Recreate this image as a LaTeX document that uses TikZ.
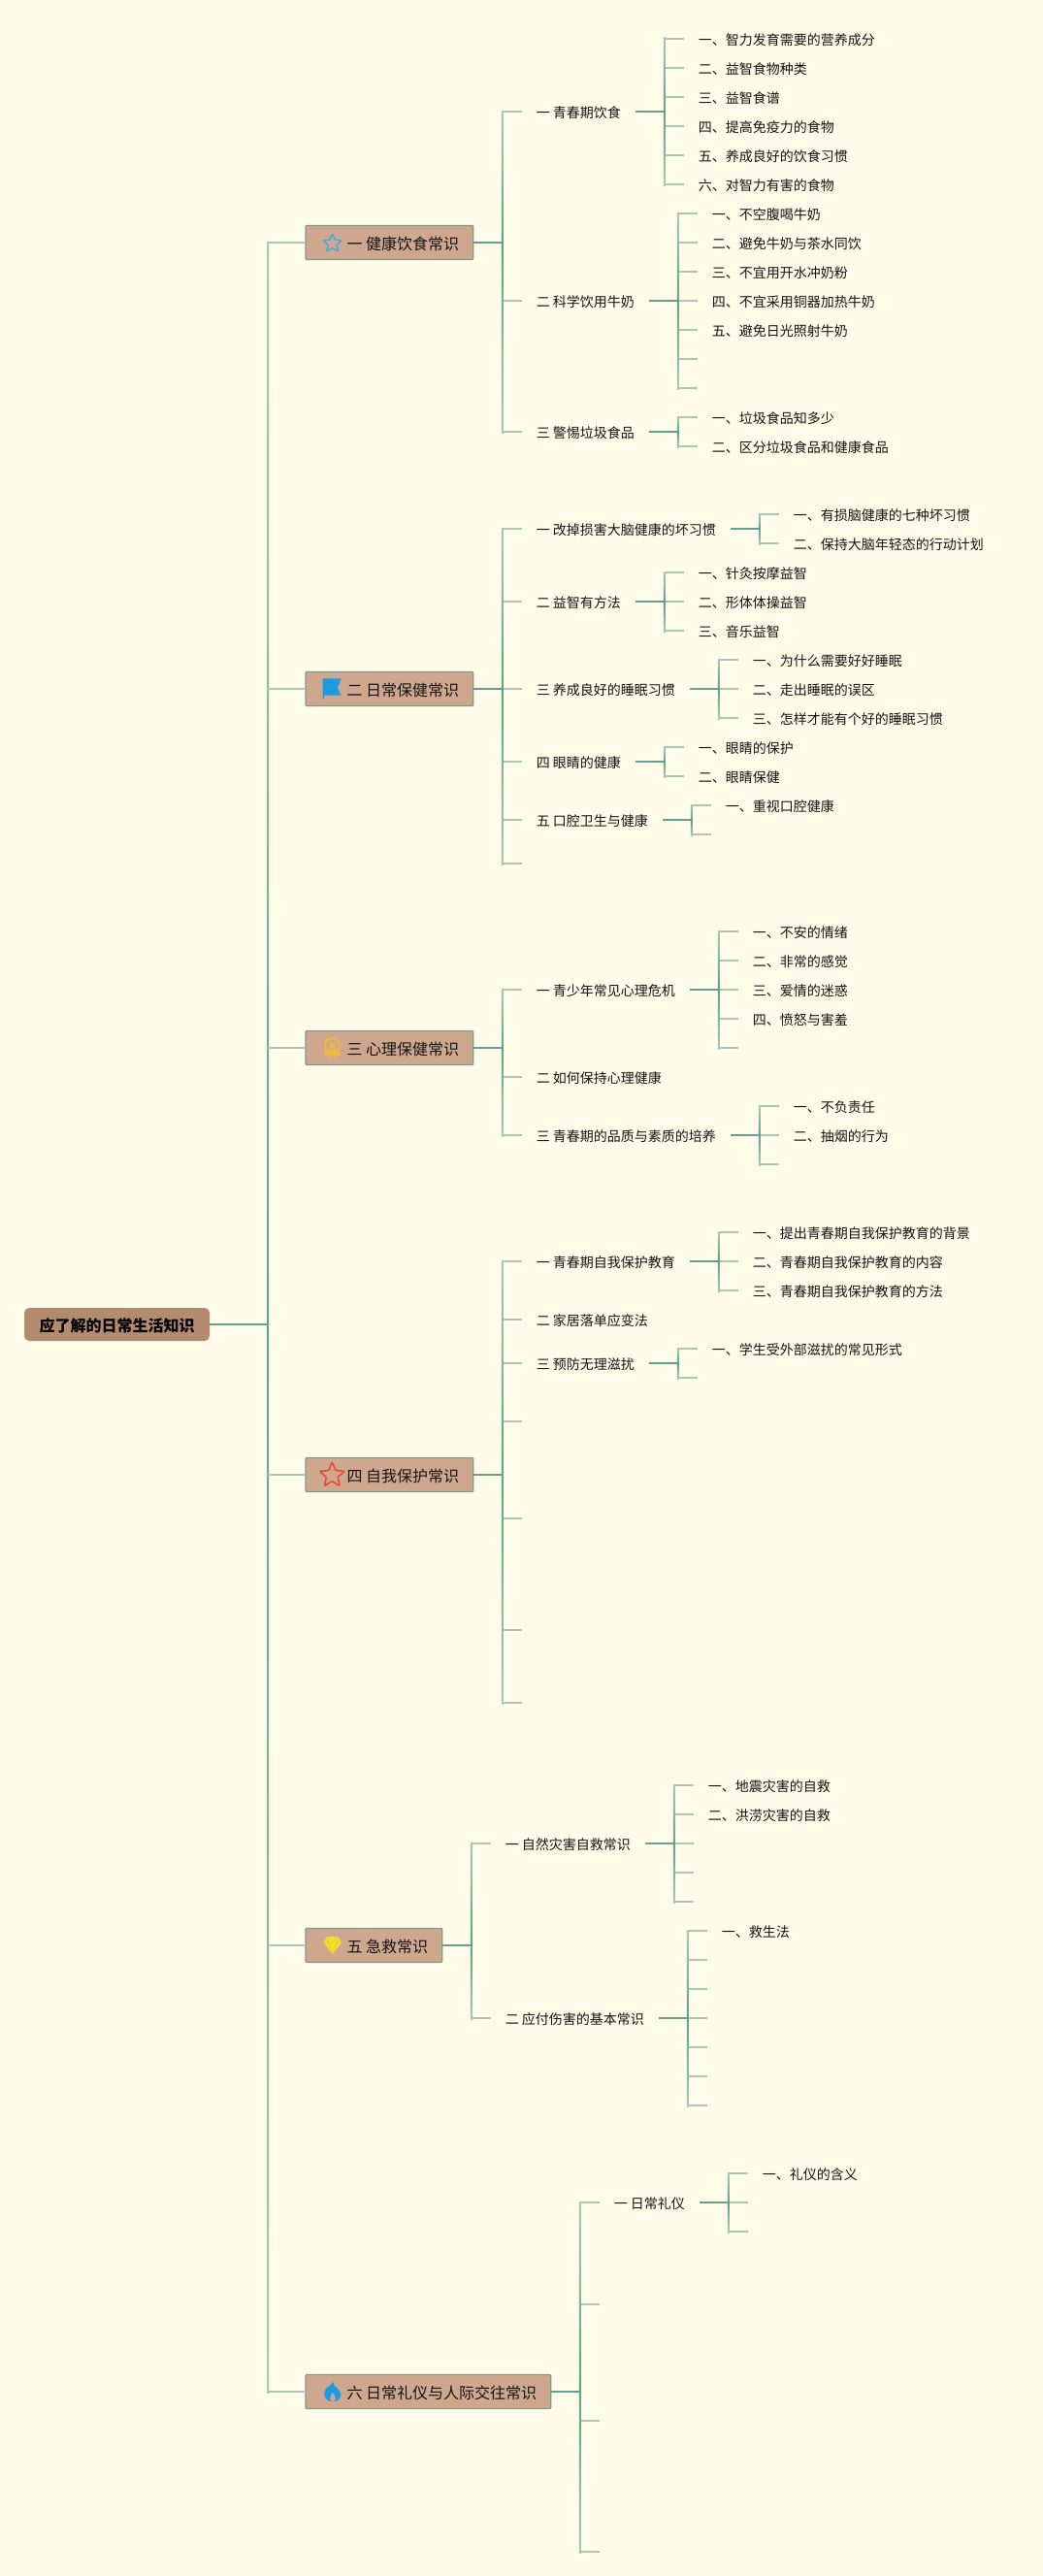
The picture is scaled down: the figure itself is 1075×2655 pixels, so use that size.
\documentclass[tikz,border=0pt]{standalone}
\usepackage{fontspec}
\setmainfont{Noto Sans CJK SC}
\usetikzlibrary{calc,shapes.geometric}

\definecolor{paper}{HTML}{FFFBE9}
\definecolor{linkdark}{HTML}{659F90}
\definecolor{linklight}{HTML}{A9C9B6}
\definecolor{boxfill}{HTML}{CFA78E}
\definecolor{boxline}{HTML}{7C9C86}
\definecolor{rootfill}{HTML}{B58B70}
\definecolor{inkcol}{HTML}{141414}
\definecolor{iconblue}{HTML}{1E9AE0}
\definecolor{icongold}{HTML}{EFB93C}
\definecolor{iconred}{HTML}{E8432C}
\definecolor{iconyellow}{HTML}{F6DE30}

\tikzset{
    leaf/.style={anchor=west,outer sep=0pt,inner xsep=15pt,inner ysep=0pt,text height=15pt,text depth=2.5pt,
        text=inkcol,font=\fontsize{14pt}{16pt}\selectfont},
    boxnode/.style={anchor=west,outer sep=0pt,draw=boxline,fill=boxfill,line width=1.2pt,rounded corners=1pt,
        minimum height=35pt,inner xsep=14.6pt,inner ysep=0pt,text height=18pt,text depth=3.4pt,
        text=inkcol,font=\fontsize{16pt}{18pt}\selectfont},
    rootnode/.style={anchor=west,outer sep=0pt,fill=rootfill,rounded corners=5pt,minimum height=34pt,
        inner xsep=15.5pt,inner ysep=0pt,text height=18pt,text depth=3.8pt,
        text=black,font=\fontsize{16pt}{18pt}\selectfont\bfseries},
    twig/.style={draw=linklight,line width=1.8pt},
    stem/.style={draw=linkdark,line width=1.8pt},
    starmark/.style={star,star points=5,star point ratio=2.2,inner sep=0pt,rounded corners=1pt}
}

% #1 parent node, #2 number of children, #3 list of y/text
\newcommand{\fanout}[3]{
    \coordinate (#1j) at ($(#1.east)+(30,0)$);
    \draw[stem] (#1.east) -- (#1j);
    \foreach \y/\txt [count=\i] in {#3} {
        \node[leaf,xshift=20pt] (#1\i) at (#1j |- 0,\y) {\txt};
        \draw[twig] (#1j |- #1\i) -- (#1\i.west);
    }
    \shade[top color=linklight,bottom color=linkdark] ($(#1j |- #11)+(-1,-1)$) rectangle ($(#1j)+(1,0)$);
    \shade[top color=linkdark,bottom color=linklight] ($(#1j)+(-1,0)$) rectangle ($(#1j |- #1#2)+(1,1)$);
}

\begin{document}
\begin{tikzpicture}[x=1pt,y=-1pt]
    \fill[paper] (0,0) rectangle (1075,2655);
    \useasboundingbox (0,0) rectangle (1075,2655);

    \node[rootnode] (root) at (25,1365) {应了解的日常生活知识};
    \node[boxnode] (a) at (315,250) {\hspace*{28pt}一 健康饮食常识};
    \node[boxnode] (b) at (315,710) {\hspace*{28pt}二 日常保健常识};
    \node[boxnode] (c) at (315,1080) {\hspace*{28pt}三 心理保健常识};
    \node[boxnode] (d) at (315,1520) {\hspace*{28pt}四 自我保护常识};
    \node[boxnode] (e) at (315,2005) {\hspace*{28pt}五 急救常识};
    \node[boxnode] (f) at (315,2465) {\hspace*{28pt}六 日常礼仪与人际交往常识};

    \coordinate (rootj) at ($(root.east)+(60,0)$);
    \shade[top color=linklight,bottom color=linkdark] ($(rootj |- a)+(-1,-1)$) rectangle ($(rootj)+(1,0)$);
    \shade[top color=linkdark,bottom color=linklight] ($(rootj)+(-1,0)$) rectangle ($(rootj |- f)+(1,1)$);
    \draw[stem] (root.east) -- (rootj);
    \foreach \n in {a,b,c,d,e,f}
        \draw[twig] (rootj |- \n) -- (\n.west);

    \fanout{a}{3}{115/一 青春期饮食,310/二 科学饮用牛奶,445/三 警惕垃圾食品}
    \fanout{a1}{6}{40/一、智力发育需要的营养成分,70/二、益智食物种类,100/三、益智食谱,
        130/四、提高免疫力的食物,160/五、养成良好的饮食习惯,190/六、对智力有害的食物}
    \fanout{a2}{7}{220/一、不空腹喝牛奶,250/二、避免牛奶与茶水同饮,280/三、不宜用开水冲奶粉,
        310/四、不宜采用铜器加热牛奶,340/五、避免日光照射牛奶,370/{},400/{}}
    \fanout{a3}{2}{430/一、垃圾食品知多少,460/二、区分垃圾食品和健康食品}

    \fanout{b}{6}{545/一 改掉损害大脑健康的坏习惯,620/二 益智有方法,710/三 养成良好的睡眠习惯,
        785/四 眼睛的健康,845/五 口腔卫生与健康,890/{}}
    \fanout{b1}{2}{530/一、有损脑健康的七种坏习惯,560/二、保持大脑年轻态的行动计划}
    \fanout{b2}{3}{590/一、针灸按摩益智,620/二、形体体操益智,650/三、音乐益智}
    \fanout{b3}{3}{680/一、为什么需要好好睡眠,710/二、走出睡眠的误区,740/三、怎样才能有个好的睡眠习惯}
    \fanout{b4}{2}{770/一、眼睛的保护,800/二、眼睛保健}
    \fanout{b5}{2}{830/一、重视口腔健康,860/{}}

    \fanout{c}{3}{1020/一 青少年常见心理危机,1110/二 如何保持心理健康,1170/三 青春期的品质与素质的培养}
    \fanout{c1}{5}{960/一、不安的情绪,990/二、非常的感觉,1020/三、爱情的迷惑,1050/四、愤怒与害羞,1080/{}}
    \fanout{c3}{3}{1140/一、不负责任,1170/二、抽烟的行为,1200/{}}

    \fanout{d}{7}{1300/一 青春期自我保护教育,1360/二 家居落单应变法,1405/三 预防无理滋扰,
        1465/{},1565/{},1680/{},1755/{}}
    \fanout{d1}{3}{1270/一、提出青春期自我保护教育的背景,1300/二、青春期自我保护教育的内容,
        1330/三、青春期自我保护教育的方法}
    \fanout{d3}{2}{1390/一、学生受外部滋扰的常见形式,1420/{}}

    \fanout{e}{2}{1900/一 自然灾害自救常识,2080/二 应付伤害的基本常识}
    \fanout{e1}{5}{1840/一、地震灾害的自救,1870/二、洪涝灾害的自救,1900/{},1930/{},1960/{}}
    \fanout{e2}{7}{1990/一、救生法,2020/{},2050/{},2080/{},2110/{},2140/{},2170/{}}

    \fanout{f}{4}{2270/一 日常礼仪,2375/{},2495/{},2630/{}}
    \fanout{f1}{3}{2240/一、礼仪的含义,2270/{},2300/{}}

    \node[starmark,draw=iconblue!85!white,line width=1.4pt,minimum size=20pt] (icona) at (342.5,251) {};
    \fill[iconblue] (332.7,699.3) -- (351.7,699.3) -- (348,709) -- (351.7,716.5) -- (334.2,716.5)
        -- (334.2,720.7) -- (332.7,720.7) -- cycle;
    \fill[icongold] (336,1082) -- (333.5,1088) -- (338,1087.5) -- (341,1091) -- (342.5,1085) -- (344,1091)
        -- (347,1087.5) -- (351.5,1088) -- (349,1082) -- cycle;
    \draw[icongold,line width=2pt] (342.5,1077.5) circle (7.5);
    \fill[icongold!75!boxfill] (342.5,1077.5) circle (3.5);
    \node[starmark,draw=iconred,line width=1.4pt,minimum size=27pt] (icond) at (342.3,1520.5) {};
    \fill[iconyellow] (337.5,1996) -- (348,1996) -- (352.3,2002) -- (342.8,2014) -- (333.3,2002) -- cycle;
    \draw[icongold!70!iconyellow,line width=.6pt] (333.3,2002) -- (352.3,2002)
        (339,1996) -- (338,2002) -- (342.8,2014) -- (347.5,2002) -- (346.5,1996);
    \fill[iconblue] (343,2454.3) .. controls (344,2459) and (345.5,2461) .. (348,2461.5)
        .. controls (348,2463) and (348.5,2463.5) .. (349.5,2463.5)
        .. controls (352.5,2467) and (352.5,2475) .. (343,2475)
        .. controls (333.5,2475) and (332.5,2467) .. (336,2461.5)
        .. controls (338,2460) and (342,2458) .. (343,2454.3) -- cycle;
    \fill[boxfill] (343,2466) .. controls (346,2469) and (347,2475) .. (343,2475)
        .. controls (339,2475) and (340,2469) .. (343,2466) -- cycle;
\end{tikzpicture}
\end{document}
